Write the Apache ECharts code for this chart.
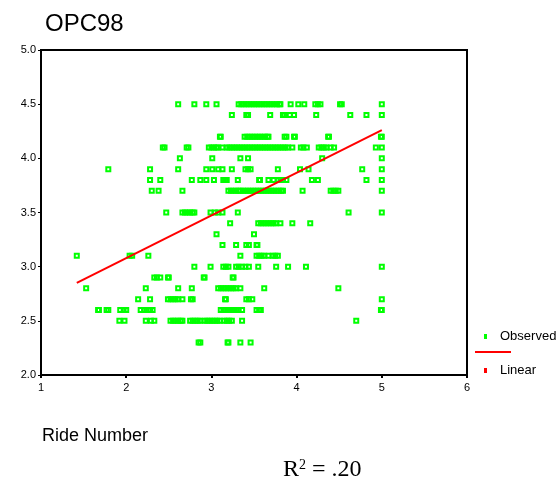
<!DOCTYPE html>
<html>
<head>
<meta charset="utf-8">
<script src="https://cdn.jsdelivr.net/npm/echarts@6/dist/echarts.min.js"></script>
<style>html,body{margin:0;padding:0;background:#fff;}#c{width:560px;height:487px;}</style>
</head>
<body>
<div id="c"></div>
<script>
// Observed values: one array of Ride Number (x) values per OPC98 level (y)
var yLevels = [4.5, 4.4, 4.2, 4.1, 4.0, 3.9, 3.8, 3.7, 3.5, 3.4, 3.3, 3.2, 3.1, 3.0, 2.9, 2.8, 2.7, 2.6, 2.5, 2.3];
var x45 = [2.61, 2.80, 2.94, 3.06, 3.32, 3.35, 3.38, 3.41, 3.44, 3.47, 3.50, 3.53, 3.56, 3.59, 3.62, 3.65, 3.68, 3.71, 3.74, 3.77, 3.80, 3.81, 3.93, 4.02, 4.09, 4.22, 4.25, 4.28, 4.51, 4.53, 5.0];
var x44 = [3.24, 3.41, 3.43, 3.69, 3.84, 3.86, 3.92, 3.97, 4.23, 4.63, 4.82, 5.0];
var x42 = [3.10, 3.11, 3.39, 3.42, 3.45, 3.48, 3.51, 3.54, 3.57, 3.60, 3.63, 3.66, 3.67, 3.86, 3.88, 3.97, 3.98, 4.37, 4.38, 4.99, 5.0];
var x41 = [2.43, 2.45, 2.71, 2.73, 2.97, 3.00, 3.03, 3.06, 3.08, 3.13, 3.18, 3.21, 3.24, 3.27, 3.30, 3.33, 3.36, 3.39, 3.42, 3.45, 3.48, 3.51, 3.54, 3.57, 3.60, 3.63, 3.66, 3.69, 3.72, 3.75, 3.78, 3.81, 3.84, 3.87, 3.90, 3.95, 4.05, 4.08, 4.12, 4.26, 4.29, 4.32, 4.35, 4.40, 4.44, 4.93, 5.0];
var x40 = [2.63, 3.01, 3.34, 3.43, 4.30, 5.0];
var x39 = [1.79, 2.28, 2.61, 2.94, 3.01, 3.08, 3.13, 3.24, 3.40, 3.43, 3.46, 3.78, 4.04, 4.14, 4.77, 5.0];
var x38 = [2.28, 2.40, 2.77, 2.87, 2.94, 3.03, 3.14, 3.16, 3.18, 3.31, 3.56, 3.57, 3.67, 3.73, 3.78, 3.81, 3.84, 3.88, 4.18, 4.25, 4.82, 5.0];
var x37 = [2.30, 2.38, 2.66, 3.20, 3.23, 3.26, 3.29, 3.32, 3.34, 3.37, 3.40, 3.43, 3.46, 3.49, 3.52, 3.55, 3.58, 3.61, 3.64, 3.67, 3.70, 3.73, 3.76, 3.79, 3.82, 3.84, 4.07, 4.40, 4.43, 4.46, 4.49, 5.0];
var x35 = [2.47, 2.66, 2.69, 2.72, 2.75, 2.78, 2.80, 2.99, 3.04, 3.08, 3.13, 3.31, 4.61, 5.0];
var x34 = [3.22, 3.55, 3.58, 3.61, 3.64, 3.67, 3.70, 3.73, 3.76, 3.81, 3.95, 4.16];
var x33 = [3.06, 3.50];
var x32 = [3.13, 3.29, 3.41, 3.44, 3.53, 3.54];
var x31 = [1.42, 2.04, 2.07, 2.26, 3.34, 3.53, 3.56, 3.59, 3.62, 3.67, 3.72, 3.75, 3.78];
var x30 = [2.80, 2.99, 3.14, 3.17, 3.20, 3.29, 3.32, 3.36, 3.40, 3.44, 3.55, 3.76, 3.90, 4.11, 5.0];
var x29 = [2.33, 2.36, 2.40, 2.49, 2.50, 2.91, 2.92, 3.25, 3.26];
var x28 = [1.53, 2.23, 2.61, 2.77, 3.08, 3.11, 3.14, 3.17, 3.20, 3.23, 3.26, 3.29, 3.34, 3.62, 4.49];
var x27 = [2.14, 2.28, 2.49, 2.52, 2.55, 2.58, 2.61, 2.66, 2.76, 2.78, 3.16, 3.17, 3.41, 3.44, 3.48, 5.0];
var x26 = [1.67, 1.68, 1.77, 1.79, 1.93, 1.97, 2.00, 2.17, 2.21, 2.24, 2.28, 2.31, 3.11, 3.14, 3.17, 3.20, 3.23, 3.26, 3.29, 3.32, 3.36, 3.53, 3.56, 3.58, 4.99, 5.0];
var x25 = [1.92, 1.98, 2.23, 2.29, 2.33, 2.52, 2.55, 2.58, 2.61, 2.64, 2.66, 2.75, 2.78, 2.81, 2.84, 2.87, 2.92, 2.95, 2.98, 3.01, 3.04, 3.07, 3.10, 3.15, 3.18, 3.21, 3.24, 3.36, 4.70];
var x23 = [2.85, 2.87, 3.19, 3.20, 3.34, 3.46];
var xRows = [x45, x44, x42, x41, x40, x39, x38, x37, x35, x34, x33, x32, x31, x30, x29, x28, x27, x26, x25, x23];

// Linear fit end points
var fitX = [1.42, 5.0];
var fitY = [2.85, 4.26];

// Axis ticks
var xTicks = [1, 2, 3, 4, 5, 6];
var yTicks = [2.0, 2.5, 3.0, 3.5, 4.0, 4.5, 5.0];

var observed = [];
yLevels.forEach(function (y, i) {
  xRows[i].forEach(function (x) { observed.push([x, y]); });
});
var fitLine = fitX.map(function (x, i) { return [x, fitY[i]]; });

var chart = echarts.init(document.getElementById('c'), null, {renderer: 'canvas'});
var axisFont = {fontFamily: 'Liberation Sans, Arial, sans-serif', fontSize: 11, color: '#000'};
chart.setOption({
  animation: false,
  backgroundColor: '#fff',
  title: {
    text: 'OPC98', left: 40, top: 7,
    textStyle: {fontFamily: 'Liberation Sans, Arial, sans-serif', fontSize: 24, fontWeight: 'normal', color: '#000'}
  },
  grid: {left: 41, right: 93, top: 50, bottom: 112, show: true, borderColor: '#000', borderWidth: 2, backgroundColor: '#fff'},
  xAxis: {
    type: 'value', min: xTicks[0], max: xTicks[xTicks.length - 1], interval: 1,
    axisLine: {show: true, onZero: false, lineStyle: {color: '#000', width: 2}},
    axisTick: {show: true, inside: false, length: 3, lineStyle: {color: '#000', width: 2}},
    axisLabel: Object.assign({margin: 7}, axisFont),
    splitLine: {show: false}
  },
  yAxis: {
    type: 'value', min: yTicks[0], max: yTicks[yTicks.length - 1], interval: 0.5,
    axisLine: {show: true, onZero: false, lineStyle: {color: '#000', width: 2}},
    axisTick: {show: true, inside: false, length: 3, lineStyle: {color: '#000', width: 1}},
    axisLabel: Object.assign({margin: 5, formatter: function (v) { return v.toFixed(1); }}, axisFont),
    splitLine: {show: false}
  },
  legend: [
    {
      data: [{name: 'Observed', icon: 'rect', itemStyle: {color: '#00ff00', borderWidth: 0}}],
      left: 484, top: 330, itemWidth: 3, itemHeight: 5, padding: 0,
      textStyle: {fontFamily: 'Liberation Sans, Arial, sans-serif', fontSize: 13, color: '#000', padding: [0, 0, 0, 8]}
    },
    {
      data: [{name: 'Linear', icon: 'rect', itemStyle: {color: '#ff0000', borderWidth: 0}}],
      left: 484, top: 364, itemWidth: 3, itemHeight: 5, padding: 0,
      textStyle: {fontFamily: 'Liberation Sans, Arial, sans-serif', fontSize: 13, color: '#000', padding: [0, 0, 0, 8]}
    }
  ],
  graphic: [
    {type: 'line', shape: {x1: 475, y1: 352, x2: 511, y2: 352}, style: {stroke: '#ff0000', lineWidth: 2}},
    {type: 'text', left: 42, top: 427,
      style: {text: 'Ride Number', fontFamily: 'Liberation Sans, Arial, sans-serif', fontSize: 18, fill: '#000'}},
    {type: 'text', left: 283, top: 458,
      style: {
        text: '{a|R}{s|2}{a| = .20}',
        rich: {
          a: {fontFamily: 'Liberation Serif, Times New Roman, serif', fontSize: 24, fill: '#000', verticalAlign: 'bottom'},
          s: {fontFamily: 'Liberation Serif, Times New Roman, serif', fontSize: 14, fill: '#000', verticalAlign: 'top', padding: [0, 0, 10, 0]}
        }
      }}
  ],
  series: [
    {
      name: 'Observed', type: 'scatter', data: observed,
      symbol: 'rect', symbolSize: 4,
      itemStyle: {color: 'rgba(0,0,0,0)', borderColor: '#00ff00', borderWidth: 2, opacity: 1},
      z: 2
    },
    {
      name: 'Linear', type: 'line', data: fitLine, showSymbol: false, symbol: 'none',
      lineStyle: {color: '#ff0000', width: 2}, itemStyle: {color: '#ff0000'}, z: 3
    }
  ]
});
</script>
</body>
</html>
